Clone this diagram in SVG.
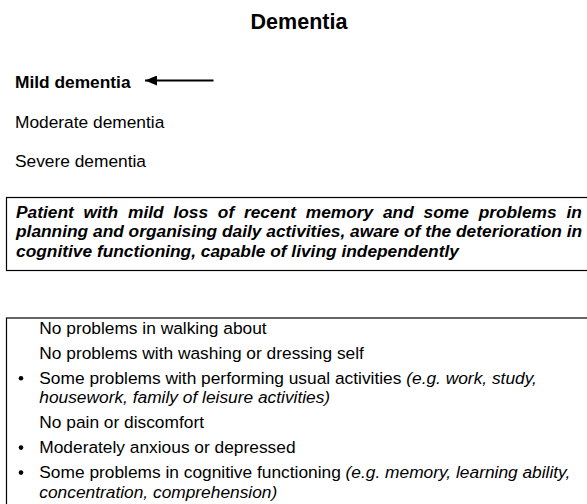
<svg xmlns="http://www.w3.org/2000/svg" width="587" height="504" viewBox="0 0 587 504">
  <style>
    text { font-family: "Liberation Sans", Arial, sans-serif; fill: #000; }
    .title { font-size: 21.5px; font-weight: bold; }
    .lvl { font-size: 17.33px; }
    .b { font-weight: bold; }
    .bi { font-size: 17.33px; font-weight: bold; font-style: italic; }
    .li { font-size: 17.33px; }
    .it { font-style: italic; }
    .box { fill: none; stroke: #000; stroke-width: 1.2; }
    .dot { fill: #000; }
  </style>
  <defs>
    <marker id="ah" viewBox="0 0 12 10" refX="12" refY="5" markerWidth="12" markerHeight="10" markerUnits="userSpaceOnUse" orient="auto">
      <path d="M0,0 L12,5 L0,10 Z" fill="#000"/>
    </marker>
  </defs>
  <rect width="587" height="504" fill="#fff"/>

  <g id="title">
    <text class="title" x="299" y="28.7" text-anchor="middle">Dementia</text>
  </g>

  <g id="mild">
    <text class="lvl b" x="15" y="87.5">Mild dementia</text>
  </g>
  <g id="moderate">
    <text class="lvl" x="15" y="127.5">Moderate dementia</text>
  </g>
  <g id="severe">
    <text class="lvl" x="15" y="166.7">Severe dementia</text>
  </g>

  <g id="connectors">
    <line x1="213.5" y1="80.5" x2="145" y2="80.5" stroke="#000" stroke-width="2.2" marker-end="url(#ah)"/>
  </g>

  <g id="description">
    <rect class="box" x="6.5" y="197.5" width="600" height="73"/>
    <text class="bi" x="16" y="217.5" word-spacing="4.97">Patient with mild loss of recent memory and some problems in</text>
    <text class="bi" x="16" y="237">planning and organising daily activities, aware of the deterioration in</text>
    <text class="bi" x="16" y="256.5">cognitive functioning, capable of living independently</text>
  </g>

  <g id="profile">
    <rect class="box" x="6.5" y="318" width="600" height="220"/>
    <text class="li" x="39.3" y="334">No problems in walking about</text>
    <text class="li" x="39.3" y="359">No problems with washing or dressing self</text>
    <circle class="dot" cx="21" cy="378.2" r="2.3"/>
    <text class="li" x="39.3" y="384">Some problems with performing usual activities <tspan class="it">(e.g. work, study,</tspan></text>
    <text class="li it" x="39.3" y="403.4">housework, family of leisure activities)</text>
    <text class="li" x="39.3" y="428.4">No pain or discomfort</text>
    <circle class="dot" cx="21" cy="447.6" r="2.3"/>
    <text class="li" x="39.3" y="453.4">Moderately anxious or depressed</text>
    <circle class="dot" cx="21" cy="472.6" r="2.3"/>
    <text class="li" x="39.3" y="478.4">Some problems in cognitive functioning <tspan class="it">(e.g. memory, learning ability,</tspan></text>
    <text class="li it" x="39.3" y="497.8">concentration, comprehension)</text>
  </g>
</svg>
